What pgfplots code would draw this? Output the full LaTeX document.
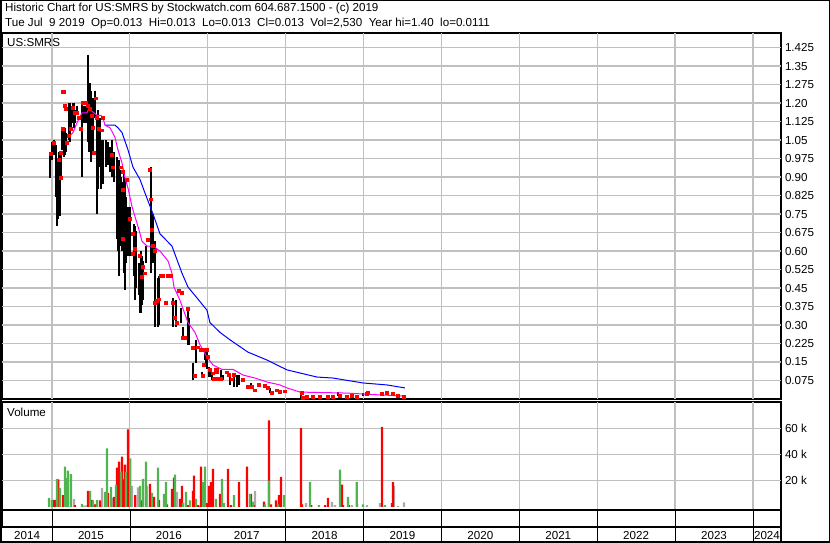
\documentclass[border=0pt]{standalone}
\usepackage{pgfplots}
\pgfplotsset{compat=1.18}
\usepackage{pgfplotstable}
\usepackage{fontspec}
\setmainfont{Liberation Sans}

\definecolor{gline}{rgb}{0.76,0.76,0.76}
\definecolor{vgreen}{RGB}{80,180,80}
\definecolor{vgray}{RGB}{170,170,170}
\definecolor{mag}{RGB}{255,0,255}

% high-low bars
\pgfplotstableread{
t hi lo
2014.974 0.997 0.896
2015.000 1.04 0.97
2015.026 1.05 0.99
2015.051 1.03 0.82
2015.064 0.97 0.70
2015.077 0.97 0.73
2015.090 1.00 0.74
2015.103 0.99 0.74
2015.116 0.99 0.90
2015.128 1.10 1.01
2015.154 1.10 0.98
2015.167 1.10 0.99
2015.180 1.08 1.00
2015.218 1.20 1.05
2015.231 1.20 1.04
2015.244 1.19 1.10
2015.270 1.20 1.12
2015.282 1.20 1.10
2015.295 1.17 1.12
2015.321 1.19 1.16
2015.385 1.20 0.90
2015.411 1.19 1.12
2015.436 1.19 1.12
2015.462 1.395 1.04
2015.475 1.25 1.00
2015.488 1.28 1.00
2015.501 1.25 0.96
2015.526 1.22 1.00
2015.552 1.25 1.14
2015.578 1.15 0.75
2015.591 1.17 0.85
2015.616 1.14 0.94
2015.629 1.05 0.85
2015.655 1.05 0.87
2015.693 1.05 0.94
2015.719 1.04 0.95
2015.745 1.02 0.92
2015.770 1.05 0.90
2015.796 1.00 0.88
2015.834 0.98 0.65
2015.847 0.95 0.60
2015.860 0.97 0.50
2015.873 0.93 0.62
2015.886 0.90 0.64
2015.899 0.88 0.60
2015.924 0.92 0.51
2015.937 0.89 0.44
2015.950 0.82 0.55
2015.976 0.78 0.58
2016.001 0.78 0.58
2016.053 0.71 0.50
2016.065 0.70 0.40
2016.078 0.68 0.45
2016.117 0.55 0.42
2016.130 0.54 0.35
2016.142 0.60 0.35
2016.155 0.58 0.38
2016.168 0.56 0.40
2016.207 0.62 0.55
2016.271 0.94 0.51
2016.297 0.75 0.55
2016.322 0.64 0.29
2016.361 0.49 0.29
2016.374 0.50 0.30
2016.553 0.41 0.29
2016.592 0.40 0.29
2016.656 0.37 0.31
2016.682 0.29 0.24
2016.746 0.37 0.22
2016.759 0.33 0.22
2016.810 0.146 0.077
2016.849 0.24 0.146
2016.926 0.11 0.085
2016.964 0.19 0.158
2016.977 0.207 0.146
2016.990 0.19 0.12
2017.015 0.13 0.09
2017.028 0.126 0.089
2017.054 0.097 0.077
2017.169 0.118 0.077
2017.195 0.097 0.077
2017.285 0.097 0.057
2017.336 0.097 0.049
2017.375 0.097 0.049
2017.401 0.097 0.057
2017.555 0.065 0.045
2017.798 0.045 0.024
2018.196 0.028 0.004
2018.671 0.028 0.012
2018.992 0.024 0.012
}\bars

% closes
\pgfplotstableread{
t c
2014.987 0.993
2015.026 1.04
2015.090 0.97
2015.116 1.00
2015.116 0.896
2015.141 1.245
2015.154 1.245
2015.141 1.095
2015.167 1.19
2015.180 1.176
2015.193 1.04
2015.218 1.066
2015.244 1.095
2015.270 1.18
2015.295 1.16
2015.321 1.16
2015.347 1.14
2015.372 1.095
2015.398 1.20
2015.411 1.20
2015.436 1.20
2015.462 1.19
2015.488 1.176
2015.513 1.15
2015.526 1.10
2015.539 1.00
2015.565 1.22
2015.578 1.14
2015.603 1.095
2015.642 1.09
2015.655 1.14
2015.770 0.99
2015.783 0.94
2015.886 0.94
2015.911 0.92
2015.963 0.89
2015.911 0.85
2016.001 0.73
2015.911 0.65
2016.040 0.67
2016.065 0.61
2016.040 0.59
2016.130 0.58
2016.258 0.93
2016.271 0.81
2016.232 0.645
2016.284 0.685
2016.297 0.62
2016.322 0.60
2016.168 0.535
2016.194 0.51
2016.155 0.495
2016.322 0.39
2016.348 0.40
2016.399 0.50
2016.425 0.50
2016.489 0.50
2016.527 0.50
2016.463 0.39
2016.374 0.405
2016.553 0.39
2016.579 0.33
2016.605 0.31
2016.630 0.44
2016.669 0.43
2016.682 0.25
2016.707 0.247
2016.746 0.365
2016.810 0.207
2016.874 0.21
2016.836 0.093
2016.938 0.093
2016.913 0.199
2016.990 0.199
2017.003 0.17
2017.028 0.118
2017.067 0.105
2017.080 0.081
2017.131 0.081
2017.118 0.12
2016.938 0.20
2016.951 0.138
2017.105 0.12
2017.118 0.109
2017.169 0.081
2017.246 0.109
2017.272 0.10
2017.311 0.08
2017.336 0.10
2017.452 0.077
2017.516 0.049
2017.567 0.05
2017.606 0.036
2017.657 0.057
2017.734 0.053
2017.773 0.045
2017.824 0.024
2017.888 0.036
2017.927 0.028
2017.991 0.032
2018.209 0.024
2018.222 0.004
2018.273 0.008
2018.350 0.008
2018.440 0.008
2018.543 0.008
2018.607 0.008
2018.697 0.012
2018.787 0.008
2018.851 0.012
2018.915 0.008
2019.044 0.020
2019.057 0.024
2019.236 0.020
2019.300 0.024
2019.377 0.020
2019.442 0.012
2019.519 0.008
}\closes

% short moving average
\pgfplotstableread{
t m
2015.205 1.06
2015.270 1.08
2015.308 1.11
2015.321 1.12
2015.385 1.16
2015.449 1.16
2015.475 1.18
2015.501 1.17
2015.539 1.16
2015.578 1.15
2015.629 1.15
2015.655 1.14
2015.680 1.11
2015.745 1.10
2015.809 1.06
2015.847 1.01
2015.899 0.957
2015.937 0.896
2015.976 0.855
2016.027 0.78
2016.065 0.74
2016.104 0.70
2016.130 0.67
2016.155 0.64
2016.220 0.62
2016.297 0.62
2016.386 0.60
2016.489 0.56
2016.540 0.51
2016.566 0.454
2016.643 0.40
2016.746 0.31
2016.836 0.27
2016.900 0.22
2016.990 0.17
2017.067 0.138
2017.182 0.12
2017.324 0.12
2017.452 0.097
2017.606 0.085
2017.760 0.069
2017.927 0.057
2018.017 0.045
2018.184 0.028
2018.787 0.024
2019.121 0.018
2019.531 0.012
}\mashort

% long moving average
\pgfplotstableread{
t b
2015.680 1.11
2015.809 1.11
2015.847 1.10
2015.899 1.08
2015.976 1.01
2016.040 0.94
2016.130 0.89
2016.194 0.835
2016.297 0.75
2016.386 0.67
2016.540 0.62
2016.669 0.51
2016.746 0.454
2016.861 0.41
2016.990 0.36
2017.028 0.31
2017.157 0.27
2017.285 0.24
2017.516 0.19
2017.760 0.158
2018.017 0.118
2018.402 0.089
2018.607 0.085
2018.992 0.065
2019.300 0.057
2019.531 0.045
}\malong

% volume: up days
\pgfplotstableread{
t v
2014.962 6900
2015.000 5400
2015.064 21500
2015.103 14600
2015.167 30800
2015.193 22000
2015.205 27700
2015.244 25000
2015.385 2300
2015.488 12300
2015.526 5000
2015.578 5400
2015.680 11500
2015.706 44600
2015.757 15400
2015.822 16900
2015.886 27000
2015.950 27000
2016.005 37000
2016.130 16000
2016.168 21500
2016.207 34600
2016.284 10800
2016.361 30000
2016.438 10000
2016.463 19000
2016.579 24600
2016.682 3000
2016.720 11500
2016.772 5000
2016.849 6200
2016.938 19000
2016.964 30800
2017.105 6200
2017.182 21500
2017.208 3000
2017.336 9000
2017.542 10000
2017.580 4000
2017.734 2000
2017.786 20000
2017.901 2000
2017.978 9000
2018.312 19000
2018.428 1500
2018.697 28500
2018.800 7700
2018.912 19000
2018.992 2000
2019.275 1500
}\volup

% volume: down days
\pgfplotstableread{
t v
2015.026 5400
2015.051 5400
2015.080 21000
2015.141 9000
2015.295 1500
2015.462 12300
2015.513 5400
2015.552 2000
2015.616 5000
2015.719 10800
2015.796 7700
2015.834 30000
2015.860 34600
2015.899 38400
2015.911 21000
2015.937 32300
2015.976 59200
2016.070 9000
2016.142 5000
2016.258 17700
2016.309 7700
2016.374 5400
2016.476 2000
2016.540 13800
2016.566 22300
2016.643 6200
2016.669 16000
2016.746 1500
2016.810 12300
2016.823 23800
2016.874 1500
2016.913 30800
2016.990 3000
2017.015 16000
2017.041 19000
2017.067 29000
2017.157 10000
2017.259 29000
2017.298 1500
2017.401 19000
2017.503 30800
2017.555 10000
2017.593 1500
2017.721 4000
2017.786 66000
2017.811 2000
2017.875 5000
2017.914 9000
2017.940 23000
2018.196 60000
2018.209 2000
2018.330 1500
2018.505 1500
2018.543 7000
2018.723 17000
2018.736 1500
2018.813 1500
2019.236 61000
2019.365 3000
2019.377 19000
}\voldown

% volume: unchanged days
\pgfplotstableread{
t v
2015.282 6000
2015.411 1000
2015.436 1200
2015.565 2000
2015.642 14600
2015.783 7000
2016.027 16000
2016.104 15000
2016.220 16000
2016.605 11500
2016.886 1000
2017.606 12300
2018.261 3000
2018.594 3800
2018.633 1500
2018.850 1500
2018.920 2300
2019.044 1500
2019.211 3000
2019.390 16000
2019.442 800
2019.519 3500
}\volflat

\pgfplotsset{
  swbase/.style={
    scale only axis, width=779pt, anchor=south west,
    xmin=2014.358, xmax=2024.36,
    xtick={2015,2016,2017,2018,2019,2020,2021,2022,2023,2024},
    xticklabels={,,,,,,,,,},
    xmajorgrids=true, ymajorgrids=true,
    major grid style={draw=gline, line width=1.2pt},
    major tick length=0pt,
    yticklabel pos=right,
    axis line style={line width=1.5pt},
    tick label style={font=\fontsize{11.6}{13}\selectfont},
    yticklabel style={anchor=west, xshift=0.5pt},
  }
}

\begin{document}
\begin{tikzpicture}[x=1pt,y=1pt]
\useasboundingbox (0pt,0pt) rectangle (830pt,543pt);

\node[anchor=west, inner sep=0pt, font=\fontsize{11.6}{13}\selectfont] at (5pt,534pt)
  {Historic Chart for US:SMRS by Stockwatch.com 604.687.1500 - (c) 2019};
\node[anchor=west, inner sep=0pt, font=\fontsize{11.6}{13}\selectfont] at (5pt,519pt)
  {Tue Jul\ \ 9 2019\ \ Op=0.013\ \ Hi=0.013\ \ Lo=0.013\ \ Cl=0.013\ \ Vol=2,530\ \ Year hi=1.40\ \ lo=0.0111};

% price panel
\begin{axis}[swbase, at={(2pt,144pt)}, height=366pt,
  ymin=0, ymax=1.484,
  ytick={0.075,0.15,0.225,0.3,0.375,0.45,0.525,0.6,0.675,0.75,0.825,0.9,0.975,1.05,1.125,1.2,1.275,1.35,1.425},
  yticklabels={0.075,0.15,0.225,0.30,0.375,0.45,0.525,0.60,0.675,0.75,0.825,0.90,0.975,1.05,1.125,1.20,1.275,1.35,1.425},
]
\pgfplotsinvokeforeach{2015,2016,2017,2018,2019,2020,2021,2022,2023,2024}{
  \draw[draw={rgb,255:red,192;green,192;blue,192}, line width=1.2pt] (axis cs:#1,0) -- (axis cs:#1,1.484);}
\pgfplotsinvokeforeach{0.075,0.15,0.225,0.3,0.375,0.45,0.525,0.6,0.675,0.75,0.825,0.9,0.975,1.05,1.125,1.2,1.275,1.35,1.425}{
  \draw[draw={rgb,255:red,192;green,192;blue,192}, line width=1.2pt] (axis cs:2014.358,#1) -- (axis cs:2024.36,#1);}
\addplot[draw=none, mark=none, forget plot,
  error bars/.cd, y dir=minus, y explicit, error mark=none,
  error bar style={draw=black, solid, line width=1.4pt}]
  table[x=t, y=hi, y error expr=\thisrow{hi}-\thisrow{lo}] {\bars};
\addplot[blue, line width=1pt, mark=none] table[x=t, y=b] {\malong};
\addplot[mag, line width=1pt, mark=none] table[x=t, y=m] {\mashort};
\addplot[red, only marks, mark=square*, mark size=1.4pt]
  table[x=t, y=c] {\closes};
\end{axis}

% volume panel
\begin{axis}[swbase, at={(2pt,33pt)}, height=108pt,
  ymin=-2300, ymax=80000, scaled y ticks=false,
  ytick={20000,40000,60000}, yticklabels={20 k,40 k,60 k},
]
\pgfplotsinvokeforeach{2015,2016,2017,2018,2019,2020,2021,2022,2023,2024}{
  \draw[draw={rgb,255:red,192;green,192;blue,192}, line width=1.2pt] (axis cs:#1,-2300) -- (axis cs:#1,80000);}
\pgfplotsinvokeforeach{20000,40000,60000}{
  \draw[draw={rgb,255:red,192;green,192;blue,192}, line width=1.2pt] (axis cs:2014.358,#1) -- (axis cs:2024.36,#1);}
\addplot[ybar, bar width=2.2pt, bar shift=0pt, fill=vgray, draw=none] table[x=t, y=v] {\volflat};
\addplot[ybar, bar width=2.2pt, bar shift=0pt, fill=red, draw=none] table[x=t, y=v] {\voldown};
\addplot[ybar, bar width=2.2pt, bar shift=0pt, fill=vgreen, draw=none] table[x=t, y=v] {\volup};
\end{axis}

% date strip
\begin{axis}[scale only axis, width=779pt, height=17pt, anchor=south west, at={(2pt,16pt)},
  xmin=2014.358, xmax=2024.36, ymin=0, ymax=1, ytick=\empty,
  xtick={2015,2016,2017,2018,2019,2020,2021,2022,2023,2024},
  xticklabels={,,,,,,,,,},
  xtick pos=bottom,
  xmajorgrids, major grid style={draw=black, line width=0.6pt},
  tick align=outside, major tick length=16pt, tick style={draw=black, line width=0.6pt},
  axis line style={line width=1.5pt},
  extra x ticks={2014.68,2015.5,2016.5,2017.5,2018.5,2019.5,2020.5,2021.5,2022.5,2023.5,2024.18},
  extra x tick labels={2014,2015,2016,2017,2018,2019,2020,2021,2022,2023,2024},
  extra x tick style={grid=none, major tick length=0pt,
    tick label style={anchor=center, yshift=-8.5pt, inner sep=0pt, font=\fontsize{11.6}{13}\selectfont}},
]
\end{axis}

\node[anchor=base west, inner sep=0pt, font=\fontsize{11.6}{13}\selectfont] at (7pt,496pt) {US:SMRS};
\node[anchor=base west, inner sep=0pt, font=\fontsize{11.6}{13}\selectfont] at (7pt,126pt) {Volume};

\draw[line width=1.5pt] (781pt,0pt) -- (781pt,16pt);
\draw[line width=1.5pt] (0.75pt,0.75pt) rectangle (829.25pt,542.25pt);
\end{tikzpicture}
\end{document}
